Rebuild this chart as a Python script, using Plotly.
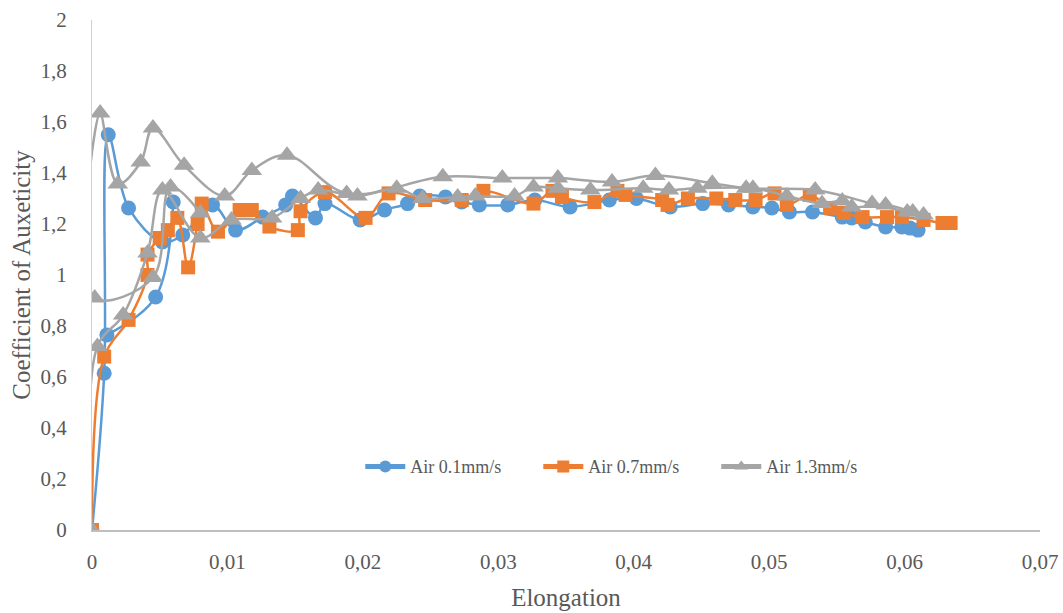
import plotly.graph_objects as go

# ---- data ----
# None separates segments of the same series (non-monotonic start of the curves)
blue_x = [0, 0.0009, 0.0012, 0.0027, 0.0052, 0.0067, 0.0089, 0.0106, 0.0126, 0.0143, 0.0148,
          0.0165, 0.0172, 0.0198, 0.0216, 0.0233, 0.0242, 0.0261, 0.0273, 0.0286, 0.0307,
          0.0327, 0.0353, 0.0382, 0.0402, 0.0427, 0.0451, 0.0470, 0.0488, 0.0502, 0.0515,
          0.0532, 0.0554, 0.0561, 0.0571, 0.0586, 0.0598, 0.0604, 0.0610,
          None, 0.0011, 0.0047, 0.0060]
blue_y = [0, 0.615, 1.55, 1.263, 1.13, 1.157, 1.275, 1.176, 1.227, 1.275, 1.31,
          1.224, 1.28, 1.216, 1.255, 1.28, 1.31, 1.306, 1.286, 1.275, 1.275,
          1.294, 1.267, 1.294, 1.30, 1.267, 1.28, 1.275, 1.267, 1.263, 1.247,
          1.247, 1.227, 1.224, 1.208, 1.188, 1.188, 1.184, 1.176,
          None, 0.765, 0.914, 1.286]

orange_x = [0, 0.0009, 0.0027, 0.0041, 0.0041, 0.0050, 0.0056, 0.0063, 0.0071, 0.0078, 0.0081,
            0.0093, 0.0109, 0.0118, 0.0131, 0.0152, 0.0154, 0.0172, 0.0202, 0.0219, 0.0246,
            0.0273, 0.0289, 0.0326, 0.0340, 0.0347, 0.0371, 0.0388, 0.0394, 0.0421, 0.0425,
            0.0440, 0.0461, 0.0475, 0.0490, 0.0504, 0.0513, 0.0530, 0.0545, 0.0555, 0.0569,
            0.0587, 0.0598, 0.0614, 0.0628, 0.0634]
orange_y = [0, 0.68, 0.824, 1.0, 1.08, 1.145, 1.176, 1.224, 1.03, 1.2, 1.28,
            1.17, 1.255, 1.255, 1.19, 1.176, 1.25, 1.325, 1.224, 1.32, 1.294,
            1.294, 1.33, 1.28, 1.33, 1.306, 1.286, 1.33, 1.314, 1.294, 1.275,
            1.30, 1.30, 1.294, 1.294, 1.32, 1.275, 1.314, 1.263, 1.243, 1.227,
            1.227, 1.227, 1.216, 1.204, 1.204]

gray_x = [0, 0.0004, 0.0023, 0.0041, 0.0052, 0.0080, 0.0103, 0.0133, 0.0154, 0.0167, 0.0196,
          0.0225, 0.0244, 0.0270, 0.0283, 0.0312, 0.0326, 0.0344, 0.0368, 0.0407, 0.0426,
          0.0447, 0.0488, 0.0513, 0.0539, 0.0554, 0.0561, 0.0586, 0.0606, 0.0614,
          None, 0.0080, 0.0058, 0.0045, 0.0002, 0.0006, 0.0019, 0.0036, 0.0045, 0.0068, 0.0098,
          0.0118, 0.0144, 0.0188, 0.0259, 0.0303, 0.0344, 0.0384, 0.0416, 0.0458, 0.0483,
          0.0534, 0.0576, 0.0602]
gray_y = [0, 0.72, 0.843, 1.086, 1.333, 1.145, 1.216, 1.224, 1.30, 1.333, 1.31,
          1.34, 1.30, 1.306, 1.31, 1.31, 1.345, 1.34, 1.333, 1.34, 1.333,
          1.34, 1.34, 1.31, 1.28, 1.29, 1.267, 1.275, 1.247, 1.235,
          None, 1.243, 1.345, 0.99, 0.91, 1.635, 1.357, 1.443, 1.576, 1.43, 1.31,
          1.41, 1.47, 1.32, 1.385, 1.38, 1.38, 1.365, 1.39, 1.36, 1.34,
          1.333, 1.28, 1.247]

series = [
    ("Air 0.1mm/s", blue_x, blue_y, "#5B9BD5", "circle", 15),
    ("Air 0.7mm/s", orange_x, orange_y, "#ED7D31", "square", 14),
    ("Air 1.3mm/s", gray_x, gray_y, "#A5A5A5", "triangle-up", 18),
]

x_ticks = [0, 0.01, 0.02, 0.03, 0.04, 0.05, 0.06, 0.07]
y_ticks = [0, 0.2, 0.4, 0.6, 0.8, 1, 1.2, 1.4, 1.6, 1.8, 2]

FONT = "Liberation Serif"
TXT = "#595959"

fig = go.Figure()
for name, xs, ys, col, sym, sz in series:
    fig.add_trace(go.Scatter(
        x=xs, y=ys, name=name, mode="lines+markers",
        line=dict(color=col, width=2.5, shape="spline", smoothing=1),
        marker=dict(color=col, symbol=sym, size=sz),
        connectgaps=False, cliponaxis=True,
    ))

fig.update_layout(
    width=1063, height=613, autosize=False,
    margin=dict(l=92, r=23, t=20, b=83, autoexpand=False),
    paper_bgcolor="white", plot_bgcolor="white",
    separators=",.",
    font=dict(family=FONT, color=TXT, size=18),
    showlegend=True,
    legend=dict(
        orientation="h", x=0.283, xanchor="left", y=0.124, yanchor="middle",
        font=dict(family=FONT, size=18, color=TXT),
        itemwidth=40, itemsizing="constant",
        entrywidth=123, entrywidthmode="pixels",
        bgcolor="rgba(0,0,0,0)", tracegroupgap=0,
    ),
    xaxis=dict(
        range=[0, 0.07], tickvals=x_ticks, tickformat=",.2~f",
        showgrid=False, zeroline=False, automargin=False,
        showline=True, linecolor="#BFBFBF", linewidth=1.5,
        ticks="", ticklabelstandoff=12,
        tickfont=dict(family=FONT, size=21, color=TXT),
        title=dict(text="Elongation", font=dict(family=FONT, size=25, color=TXT), standoff=16),
    ),
    yaxis=dict(
        range=[0, 2], tickvals=y_ticks, tickformat=",.1~f",
        showgrid=False, zeroline=False, automargin=False,
        showline=True, linecolor="#D0D0D0", linewidth=1,
        ticks="", ticklabelstandoff=20,
        tickfont=dict(family=FONT, size=21, color=TXT),
        title=dict(text="Coefficient of Auxeticity", font=dict(family=FONT, size=25, color=TXT), standoff=2),
    ),
)

fig.write_html(
    "out.html",
    config={"responsive": False, "displayModeBar": False},
    post_script="document.body.style.margin='0';document.body.style.overflow='hidden';",
)
